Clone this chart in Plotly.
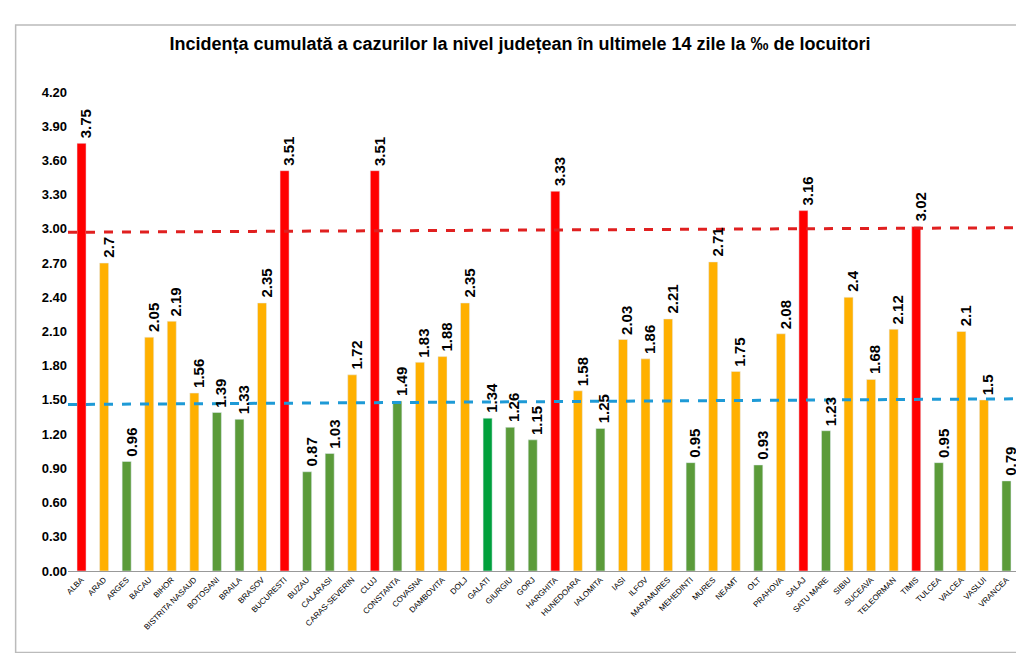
import plotly.graph_objects as go

judete = ['ALBA', 'ARAD', 'ARGES', 'BACAU', 'BIHOR', 'BISTRITA NASAUD', 'BOTOSANI', 'BRAILA',
          'BRASOV', 'BUCURESTI', 'BUZAU', 'CALARASI', 'CARAS-SEVERIN', 'CLUJ', 'CONSTANTA',
          'COVASNA', 'DAMBOVITA', 'DOLJ', 'GALATI', 'GIURGIU', 'GORJ', 'HARGHITA', 'HUNEDOARA',
          'IALOMITA', 'IASI', 'ILFOV', 'MARAMURES', 'MEHEDINTI', 'MURES', 'NEAMT', 'OLT',
          'PRAHOVA', 'SALAJ', 'SATU MARE', 'SIBIU', 'SUCEAVA', 'TELEORMAN', 'TIMIS', 'TULCEA',
          'VALCEA', 'VASLUI', 'VRANCEA']
incidenta = [3.75, 2.7, 0.96, 2.05, 2.19, 1.56, 1.39, 1.33, 2.35, 3.51, 0.87, 1.03, 1.72, 3.51,
             1.49, 1.83, 1.88, 2.35, 1.34, 1.26, 1.15, 3.33, 1.58, 1.25, 2.03, 1.86, 2.21, 0.95,
             2.71, 1.75, 0.93, 2.08, 3.16, 1.23, 2.4, 1.68, 2.12, 3.02, 0.95, 2.1, 1.5, 0.79]
ticks = [0.0, 0.3, 0.6, 0.9, 1.2, 1.5, 1.8, 2.1, 2.4, 2.7, 3.0, 3.3, 3.6, 3.9, 4.2]

def culoare(nume, v):
    if v > 3:
        return '#ff0000'
    if v >= 1.5:
        return '#ffb000'
    if nume == 'GALATI':
        return '#00a03c'
    return '#5b9b3a'

culori = [culoare(n, v) for n, v in zip(judete, incidenta)]

fig = go.Figure(go.Bar(x=judete, y=incidenta, marker_color=culori, width=0.4))

# etichete valori, verticale, deasupra barelor
for n, v in zip(judete, incidenta):
    fig.add_annotation(x=n, y=v, text=f'<b>{v:g}</b>', textangle=-90, showarrow=False,
                       yanchor='bottom', yshift=3, xshift=4,
                       font=dict(size=15, color='black', family='Liberation Sans'))

# praguri (linii punctate usor inclinate)
fig.add_shape(type='line', xref='paper', yref='y', x0=0, x1=1, y0=2.97, y1=3.01,
              line=dict(color='#e02020', width=3, dash='dash'))
fig.add_shape(type='line', xref='paper', yref='y', x0=0, x1=1, y0=1.46, y1=1.51,
              line=dict(color='#1e9ad6', width=3, dash='dash'))
fig.add_shape(type='rect', xref='paper', yref='paper', x0=-0.055, x1=1.01, y0=-0.17, y1=1.14,
              line=dict(color='#bbbbbb', width=1.5))

fig.update_layout(
    width=1024, height=653,
    title=dict(text='<b>Incidența cumulată a cazurilor la nivel județean în ultimele 14 zile la ‰ de locuitori</b>',
               x=0.5, y=0.955, font=dict(size=18, color='black', family='Liberation Sans')),
    plot_bgcolor='white', paper_bgcolor='white',
    margin=dict(l=60, r=12, t=84, b=90),
    showlegend=False,
    font=dict(family='Liberation Sans', color='black'),
    xaxis=dict(tickangle=-45, tickfont=dict(size=8, family='Liberation Sans'), showline=True,
               linecolor='#999999', range=[-0.6, 41.6]),
    yaxis=dict(range=[0, 4.2], tickvals=ticks, ticktext=[f'<b>{t:.2f}</b>' for t in ticks],
               tickfont=dict(size=13), showgrid=False, zeroline=False),
)
fig.write_html('out.html')
